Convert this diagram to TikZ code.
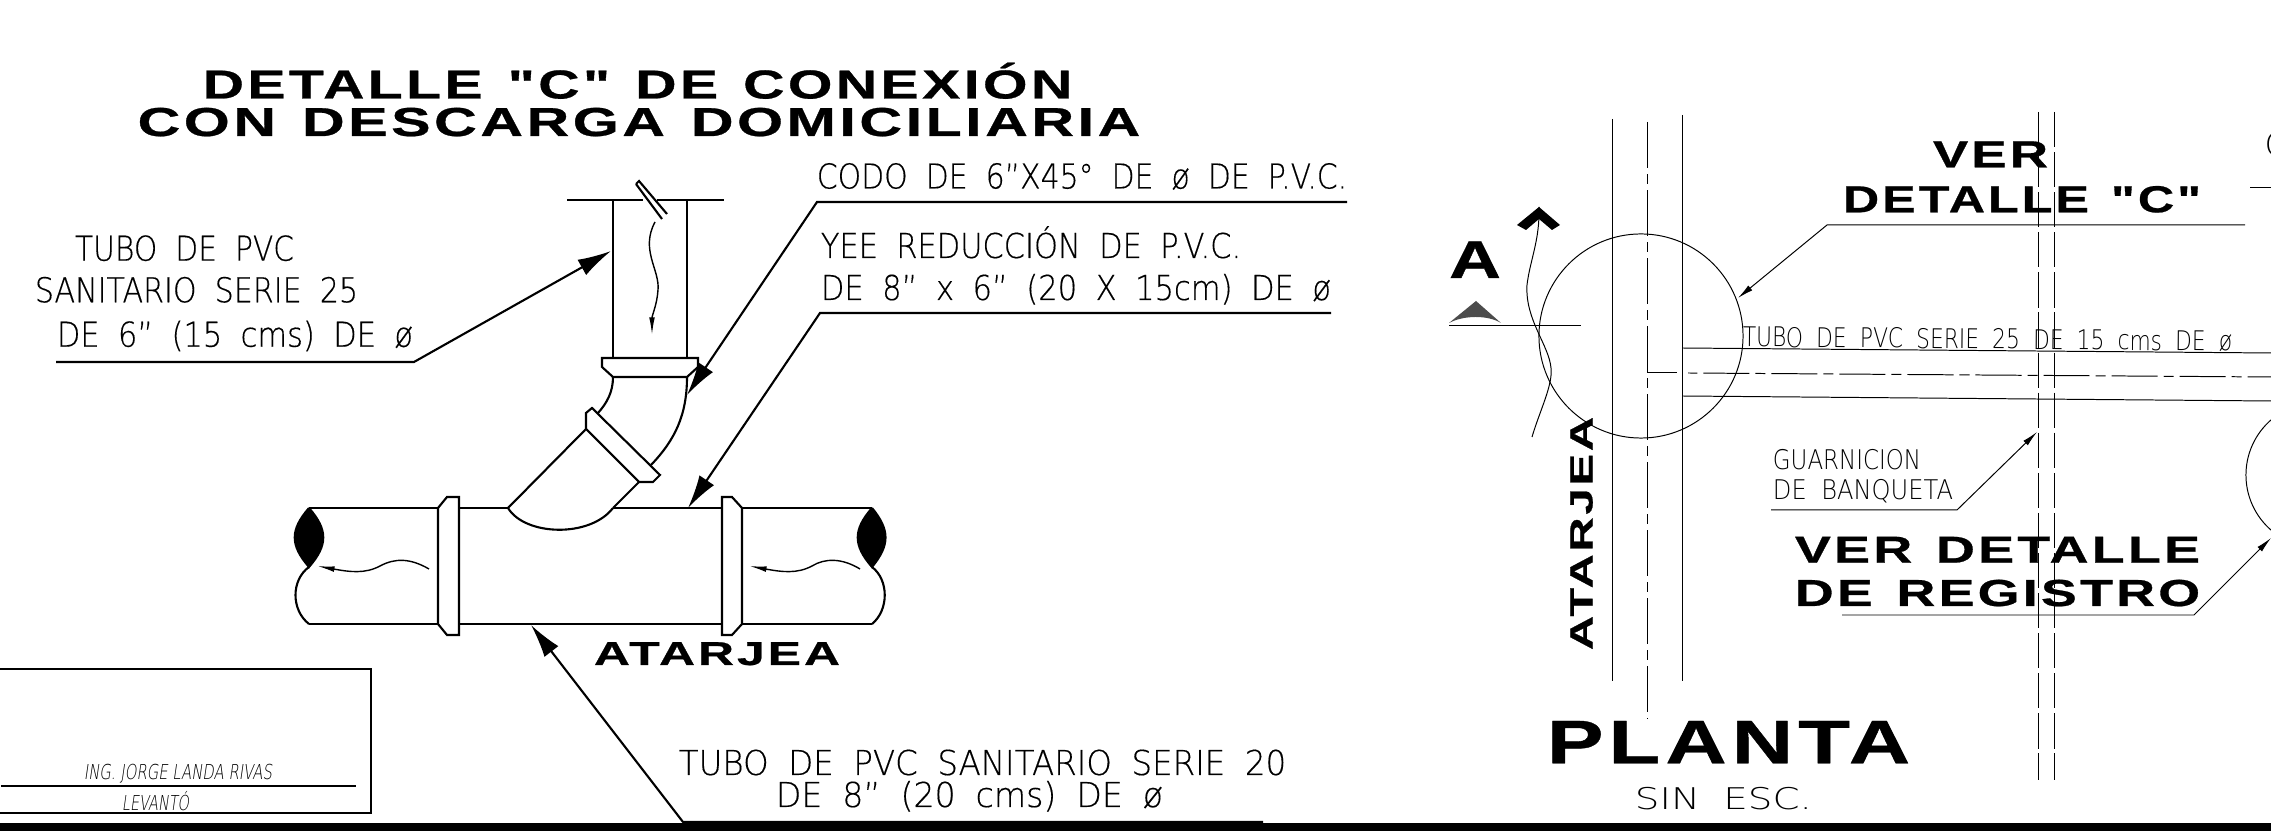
\documentclass[tikz,border=0pt]{standalone}
\usepackage{fontspec}
\usepackage{graphicx}
\usetikzlibrary{arrows.meta}
\setmainfont{Liberation Sans}
\newfontfamily\thinfont[WordSpace=1.9,FakeBold=0.35]{DejaVu Sans ExtraLight}
\newfontfamily\finefont[WordSpace=1.9]{DejaVu Sans ExtraLight}
\newfontfamily\boldfont[LetterSpace=6,WordSpace=1.3,FakeBold=0.6]{Liberation Sans Bold}
\newfontfamily\slantfont[FakeSlant=0.2]{DejaVu Sans ExtraLight}
% breite einer zeile erzwingen, hoehe bleibt
\newcommand{\fitw}[2]{\resizebox{#1cm}{\height}{#2}}
\tikzset{
	heavy/.style={line width=0.6pt},
	fine/.style={line width=0.28pt},
	bigtip/.style={-{Latex[length=9.5pt,width=5pt]}},
	smalltip/.style={-{Latex[length=4.5pt,width=1.8pt]}},
	waveline/.style={-{Latex[length=5pt,width=1.6pt]}, line width=0.4pt},
	txtbig/.style={inner sep=0pt, anchor=base, font=\thinfont\fontsize{9.75}{11}\selectfont},
	txtmid/.style={inner sep=0pt, anchor=base, font=\finefont\fontsize{7.7}{9}\selectfont},
	titlehuge/.style={inner sep=0pt, anchor=base, font=\boldfont\fontsize{11.5}{13}\selectfont},
	titlemid/.style={inner sep=0pt, anchor=base, font=\boldfont\fontsize{10.7}{12}\selectfont},
	axisline/.style={fine, dash pattern=on 13.1pt off 1.7pt on 2.85pt off 1.7pt},
	curbline/.style={fine, dash pattern=on 10pt off 1.4pt},
}
\begin{document}
\begin{tikzpicture}[x=0.01cm, y=-0.01cm]
	\useasboundingbox (0,0) rectangle (2271,831);
	\clip (0,0) rectangle (2271,831);
	% Titel Detalle
	\node[titlehuge] (title1) at (637.5,98.5) {\fitw{8.69}{DETALLE "C" DE CONEXIÓN}};
	\node[titlehuge] (title2) at (639,136) {\fitw{10.02}{CON DESCARGA DOMICILIARIA}};
	% Texte links
	\node[txtbig] (tubeA) at (184.5,260.7) {\fitw{2.19}{TUBO DE PVC}};
	\node[txtbig] (tubeB) at (196.5,302.3) {\fitw{3.23}{SANITARIO SERIE 25}};
	\node[txtbig] (tubeC) at (235,346.7) {\fitw{3.56}{DE 6” (15 cms) DE ø}};
	\node[txtbig] (elbowtxt) at (1082,188.5) {\fitw{5.30}{CODO DE 6”X45° DE ø DE P.V.C.}};
	\node[txtbig] (yeeA) at (1031,258) {\fitw{4.20}{YEE REDUCCIÓN DE P.V.C.}};
	\node[txtbig] (yeeB) at (1076,300) {\fitw{5.10}{DE 8” x 6” (20 X 15cm) DE ø}};
	\node[txtbig] (mainA) at (982.5,775) {\fitw{6.07}{TUBO DE PVC SANITARIO SERIE 20}};
	\node[txtbig] (mainB) at (969.5,807) {\fitw{3.87}{DE 8” (20 cms) DE ø}};
	\node[titlemid, font=\boldfont\fontsize{9.4}{12}\selectfont] (sewerA) at (717,665) {\fitw{2.46}{ATARJEA}};
	% Rohr senkrecht
	\draw[heavy] (567,200) -- (643,200);
	\draw[heavy] (657,200) -- (724,200);
	\draw[heavy] (613,200) -- (613,358);
	\draw[heavy] (687,200) -- (687,358);
	\draw[heavy] (636,184) -- (639,181) -- (667,214);
	\draw[heavy] (636,184) -- (662,219);
	\draw[heavy] (602,358) -- (698,358) -- (698,367) -- (687,377) -- (613,377) -- (602,367) -- cycle;
	\draw[waveline] (655,222) .. controls (640,250) and (660,270) .. (658,290) .. controls (657,305) and (652,315) .. (652,335);
	% Bogen 45
	\draw[heavy] (687,377) .. controls (687,415) and (675,440) .. (651,465);
	\draw[heavy] (613,377) .. controls (613,392) and (607,403) .. (598,413);
	\draw[heavy] (586,429) -- (586,413) -- (592,408) -- (660,475) -- (653,482) -- (639,482) -- cycle;
	\draw[heavy] (586,429) -- (508,508);
	\draw[heavy] (639,482) -- (613,508);
	\draw[heavy] (508,508) .. controls (525,536) and (590,538) .. (613,508);
	% Hauptrohr
	\draw[heavy] (309,508) -- (438,508);
	\draw[heavy] (459,508) -- (508,508);
	\draw[heavy] (613,508) -- (722,508);
	\draw[heavy] (742,508) -- (872,508);
	\draw[heavy] (309,624) -- (438,624);
	\draw[heavy] (459,624) -- (722,624);
	\draw[heavy] (742,624) -- (872,624);
	\draw[heavy] (438,508) -- (447,497) -- (459,497) -- (459,635) -- (447,635) -- (438,624) -- cycle;
	\draw[heavy] (722,497) -- (732,497) -- (742,508) -- (742,624) -- (732,635) -- (722,635) -- cycle;
	\filldraw[heavy] (309,508) .. controls (290,530) and (290,545) .. (309,567) .. controls (328,545) and (328,530) .. (309,508);
	\filldraw[heavy] (872,508) .. controls (853,530) and (853,545) .. (872,567) .. controls (890,545) and (890,530) .. (872,508);
	\draw[heavy] (309,567) .. controls (291,580) and (291,610) .. (309,624);
	\draw[heavy] (872,567) .. controls (889,580) and (889,610) .. (872,624);
	\draw[waveline] (429,569) .. controls (410,558) and (395,558) .. (380,566) .. controls (365,574) and (350,572) .. (317,566);
	\draw[waveline] (860,569) .. controls (842,558) and (825,558) .. (812,566) .. controls (797,574) and (782,572) .. (749,566);
	% Hinweislinien links
	\coordinate (tubeS) at (56,362);
	\coordinate (tubeK) at (414,362);
	\coordinate (tubeT) at (611,251);
	\draw[heavy, bigtip] (tubeS) -- (tubeK) -- (tubeT);
	\coordinate (elbowS) at (1347,202);
	\coordinate (elbowK) at (817,202);
	\coordinate (elbowT) at (687,395);
	\draw[heavy, bigtip] (elbowS) -- (elbowK) -- (elbowT);
	\coordinate (yeeS) at (1331,313);
	\coordinate (yeeK) at (820,313);
	\coordinate (yeeT) at (688,508);
	\draw[heavy, bigtip] (yeeS) -- (yeeK) -- (yeeT);
	\coordinate (mainS) at (1263,822);
	\coordinate (mainK) at (683,822);
	\coordinate (mainT) at (531,625);
	\draw[heavy, bigtip] (mainS) -- (mainK) -- (mainT);
	% Stempel
	\draw[heavy] (0,669) -- (371,669) -- (371,813) -- (0,813);
	\coordinate (signL) at (1,786);
	\coordinate (signR) at (356,786);
	\draw[heavy] (signL) -- (signR);
	\node[inner sep=0pt, anchor=base, font=\slantfont\fontsize{5.85}{7}\selectfont] (signA) at (178,780) {\fitw{1.88}{ING. JORGE LANDA RIVAS}};
	\node[inner sep=0pt, anchor=base, font=\slantfont\fontsize{5.85}{7}\selectfont] (signB) at (155.5,811) {\fitw{0.67}{LEVANTÓ}};
	\fill (0,823) rectangle (2271,831);
	% Planta: Achsen und Linien
	\draw[fine] (1612,119) -- (1612,681);
	\draw[fine] (1682,115) -- (1682,681);
	\draw[axisline] (1647,122) -- (1647,719);
	\draw[curbline] (2038,112) -- (2038,780);
	\draw[curbline] (2054,112) -- (2054,780);
	\draw[fine] (1641,336) circle[radius=1.02cm];
	\draw[fine] (2319,475) circle[radius=0.73cm];
	\draw[fine] (1682,348) -- (2271,353);
	\draw[fine] (1682,396) -- (2271,401);
	\draw[fine] (1647,373) -- (1677,373);
	\draw[axisline, dash phase=15pt] (1688,373) -- (2271,377);
	% Schnitt A
	\draw[fine] (1449,326) -- (1581,326);
	\fill[black!70] (1449,323) -- (1476,301) -- (1501,323) .. controls (1488,315) and (1464,315) .. (1449,323);
	\draw[fine] (1532,437) .. controls (1540,410) and (1553,385) .. (1551,368) .. controls (1549,345) and (1525,320) .. (1527,285) .. controls (1530,260) and (1540,240) .. (1539,207);
	\fill (1539,207) -- (1560,225) -- (1552,230) -- (1539,219) -- (1526,230) -- (1517,225) -- cycle;
	\node[inner sep=0pt, anchor=base, font=\boldfont\fontsize{15.1}{16}\selectfont] (cutA) at (1475,278) {\fitw{0.52}{A}};
	\node[inner sep=0pt, anchor=base, rotate=90, font=\boldfont\fontsize{9.2}{11}\selectfont] (sewerB) at (1592.5,533.5) {\fitw{2.33}{ATARJEA}};
	% Texte rechts
	\node[titlemid] (seeA) at (1990.5,167.3) {\fitw{1.15}{VER}};
	\node[titlemid] (seeB) at (2022,212.3) {\fitw{3.58}{DETALLE "C"}};
	\node[txtmid, rotate=-0.5] (pipetxt) at (1987.5,348.8) {\fitw{4.89}{TUBO DE PVC SERIE 25 DE 15 cms DE ø}};
	\node[txtmid] (curbA) at (1847,470) {\fitw{1.48}{GUARNICION}};
	\node[txtmid] (curbB) at (1863,500) {\fitw{1.80}{DE BANQUETA}};
	\node[titlemid] (regA) at (1997.5,562.7) {\fitw{4.05}{VER DETALLE}};
	\node[titlemid] (regB) at (1997.5,606) {\fitw{4.05}{DE REGISTRO}};
	\node[inner sep=0pt, anchor=base, font=\boldfont\fontsize{17.5}{18}\selectfont] (plan) at (1728.5,763.3) {\fitw{3.63}{PLANTA}};
	\node[txtmid, font=\finefont\fontsize{8.5}{10}\selectfont] (scale) at (1723.5,810) {\fitw{1.77}{SIN ESC.}};
	\node[txtmid, anchor=base west, font=\finefont\fontsize{9.4}{10}\selectfont] (cutoff) at (2264,157) {C};
	% Hinweislinien rechts
	\coordinate (seeS) at (2245,225);
	\coordinate (seeK) at (1827,225);
	\coordinate (seeT) at (1738,298);
	\draw[fine, smalltip] (seeS) -- (seeK) -- (seeT);
	\coordinate (curbS) at (1771,510);
	\coordinate (curbK) at (1957,510);
	\coordinate (curbT) at (2037,432);
	\draw[fine, smalltip] (curbS) -- (curbK) -- (curbT);
	\coordinate (regS) at (1842,615);
	\coordinate (regK) at (2194,615);
	\coordinate (regT) at (2271,538);
	\draw[fine, smalltip] (regS) -- (regK) -- (regT);
	\coordinate (offL) at (2250,188);
	\coordinate (offR) at (2271,188);
	\draw[fine] (offL) -- (offR);
\end{tikzpicture}
\end{document}
